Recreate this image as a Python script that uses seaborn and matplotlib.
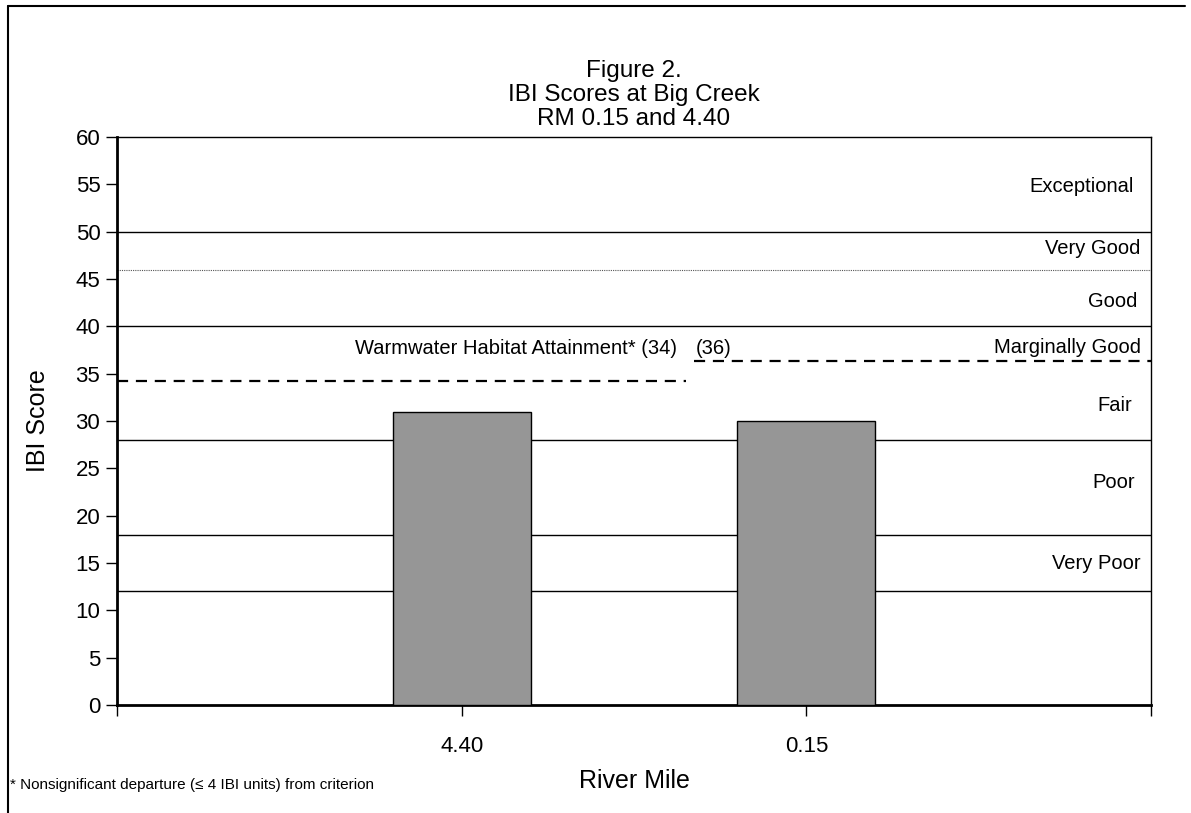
import pandas as pd
import numpy as np
import matplotlib.pyplot as plt
import seaborn as sns
from matplotlib.lines import Line2D

# data
river_miles = ["4.40", "0.15"]
ibi_scores = [31, 30]
axis_order = ["", "4.40", "0.15", " "]

# narrative class boundaries (solid lines) and the thin one at 46
class_lines = [12, 18, 28, 40, 50]
thin_line = 46
class_labels = ["Exceptional", "Very Good", "Good", "Marginally Good", "Fair", "Poor", "Very Poor"]
class_label_y = [54.8, 48.2, 42.6, 37.8, 31.6, 23.5, 15.0]
class_label_x = [2.95, 2.97, 2.96, 2.97, 2.945, 2.955, 2.97]

# warmwater habitat attainment criteria (dashed)
wwh_left = 34.2
wwh_right = 36.3

df = pd.DataFrame({"River Mile": river_miles, "IBI Score": ibi_scores})

sns.set_style("ticks")
plt.rcParams["font.family"] = ["Liberation Sans", "DejaVu Sans"]
plt.rcParams["text.color"] = "black"
plt.rcParams["axes.labelcolor"] = "black"
plt.rcParams["xtick.color"] = "black"
plt.rcParams["ytick.color"] = "black"
plt.rcParams["axes.edgecolor"] = "black"

fig = plt.figure(figsize=(11.91, 8.13), dpi=100)
ax = fig.add_axes([117 / 1191, 1 - 705 / 813, 1034 / 1191, 568 / 813])

sns.barplot(data=df, x="River Mile", y="IBI Score", order=axis_order,
            color="#969696", saturation=1, width=0.4,
            edgecolor="black", linewidth=1, ax=ax, zorder=3)

# class lines
for v in class_lines:
    ax.axhline(v, color="black", lw=1, zorder=2)
ax.axhline(thin_line, color="#555555", lw=0.8, ls=(0, (1, 1)), zorder=2)

# criteria lines
ax.plot([0, 1.65], [wwh_left, wwh_left], color="black", lw=1.6,
        ls=(0, (5, 3.5)), zorder=4)
ax.plot([1.675, 3], [wwh_right, wwh_right], color="black", lw=1.6,
        ls=(0, (5, 3.5)), zorder=4)

for lab, yy, xx in zip(class_labels, class_label_y, class_label_x):
    ax.text(xx, yy, lab, ha="right", va="center", fontsize=14.5)

ax.text(1.625, 37.7, "Warmwater Habitat Attainment* (34)", ha="right",
        va="center", fontsize=14.5)
ax.text(1.68, 37.7, "(36)", ha="left", va="center", fontsize=14.5)

ax.set_xlim(0, 3)
ax.set_ylim(0, 60)
ax.set_yticks(np.arange(0, 61, 5))
ax.set_xticks([0, 1, 2, 3])
ax.set_xticklabels(axis_order)
ax.tick_params(axis="y", labelsize=16, length=8, width=1, pad=4)
ax.tick_params(axis="x", labelsize=16, length=8, width=1, pad=14)

ax.set_xlabel("River Mile", fontsize=18, labelpad=9)
ax.set_ylabel("IBI Score", fontsize=18, labelpad=18)

for side in ["top", "right"]:
    ax.spines[side].set_visible(True)
    ax.spines[side].set_linewidth(1)
for side in ["left", "bottom"]:
    ax.spines[side].set_linewidth(2)

ax.set_title("Figure 2.\nIBI Scores at Big Creek\nRM 0.15 and 4.40", fontsize=17.5,
             linespacing=1.1, pad=9)

fig.text(10 / 1191, 1 - 785 / 813,
         "* Nonsignificant departure (≤ 4 IBI units) from criterion",
         fontsize=11, va="center", ha="left")

# figure border (left and top as in the reference)
fig.add_artist(Line2D([8 / 1191, 8 / 1191], [0, 1 - 6 / 813], color="black", lw=1.5))
fig.add_artist(Line2D([8 / 1191, 1185 / 1191], [1 - 6 / 813, 1 - 6 / 813], color="black", lw=1.5))

fig.savefig("out.png", dpi=100)
